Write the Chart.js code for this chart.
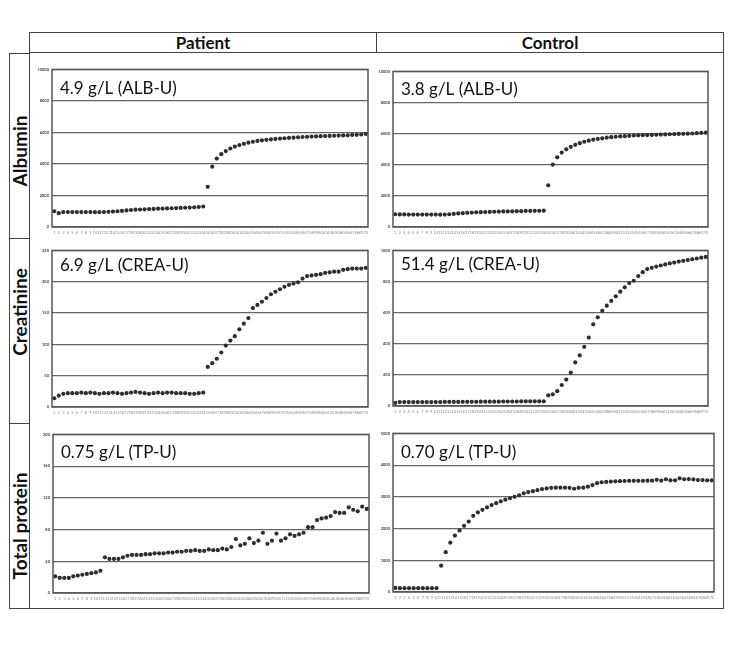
<!DOCTYPE html>
<html>
<head>
<meta charset="utf-8">
<script src="https://cdn.jsdelivr.net/npm/chart.js@4.4.1/dist/chart.umd.min.js"></script>
<style>
body{margin:0;background:#fff;width:752px;height:658px;position:relative;overflow:hidden;font-family:Lato,"Open Sans",sans-serif;color:#111}
.l{position:absolute;background:#444}
.hd{position:absolute;top:32px;height:20px;line-height:21px;font-weight:bold;font-size:17px;text-align:center}
.rw{position:absolute;font-weight:bold;font-size:19px;white-space:nowrap;transform:translate(-50%,-50%) rotate(-90deg)}
.cv{position:absolute}
</style>
</head>
<body>
<!-- table frame -->
<div class="l" style="left:29px;top:32px;width:695px;height:1px"></div>
<div class="l" style="left:29px;top:52px;width:695px;height:1px"></div>
<div class="l" style="left:9px;top:53px;width:20px;height:1px"></div>
<div class="l" style="left:9px;top:238px;width:20px;height:1px"></div>
<div class="l" style="left:9px;top:423px;width:20px;height:1px"></div>
<div class="l" style="left:9px;top:608px;width:715px;height:1px"></div>
<div class="l" style="left:9px;top:53px;width:1px;height:556px"></div>
<div class="l" style="left:29px;top:32px;width:1px;height:577px"></div>
<div class="l" style="left:376px;top:32px;width:1px;height:20px"></div>
<div class="l" style="left:723px;top:32px;width:1px;height:577px"></div>

<div class="hd" style="left:30px;width:346px">Patient</div>
<div class="hd" style="left:377px;width:346px">Control</div>
<div class="rw" style="left:19px;top:151px">Albumin</div>
<div class="rw" style="left:19px;top:312px">Creatinine</div>
<div class="rw" style="left:19px;top:526px">Total protein</div>

<div class="cv" id="c1"><canvas id="g1"></canvas></div>
<div class="cv" id="c2"><canvas id="g2"></canvas></div>
<div class="cv" id="c3"><canvas id="g3"></canvas></div>
<div class="cv" id="c4"><canvas id="g4"></canvas></div>
<div class="cv" id="c5"><canvas id="g5"></canvas></div>
<div class="cv" id="c6"><canvas id="g6"></canvas></div>

<script>
// sample numbers along the x axis
const amostras = Array.from({length: 70}, (_, i) => String(i + 1));

const albuminaPaciente = [
  1000,880,950,950,950,950,950,950,950,940,
  940,950,960,980,1000,1020,1050,1080,1100,1110,
  1120,1140,1150,1160,1170,1180,1190,1200,1210,1220,
  1230,1250,1270,1300,
  2550,3830,4340,4620,4820,4980,5100,5200,5280,5350,
  5410,5460,5500,5530,5560,5590,5610,5630,5650,5670,
  5690,5710,5720,5740,5750,5760,5770,5780,5790,5800,
  5810,5820,5840,5850,5870,5900
];
const albuminaControle = [
  820,810,810,800,800,800,800,800,800,800,
  790,800,820,840,870,890,910,930,940,950,
  960,970,980,990,1000,1000,1010,1020,1020,1030,
  1030,1040,1040,1050,
  2680,4010,4480,4780,4990,5150,5280,5390,5480,5550,
  5610,5660,5700,5740,5770,5800,5820,5840,5860,5880,
  5890,5900,5910,5920,5930,5940,5950,5960,5970,5980,
  5990,6000,6010,6030,6050,6070
];
const creatininaPaciente = [
  14,18,21,22,22,22,23,22,23,22,
  21,22,22,23,22,21,22,23,24,23,
  22,21,22,23,22,23,23,22,22,22,
  21,21,22,23,
  64,70,77,87,98,106,113,124,133,142,
  158,163,168,174,180,184,188,192,195,197,
  199,205,209,210,211,212,214,215,216,216,
  219,220,221,221,221,222
];
const creatininaControle = [
  20,25,25,25,25,25,25,25,25,25,
  25,26,26,26,26,27,27,27,27,28,
  28,28,28,28,29,29,29,29,30,30,
  30,30,30,30,
  68,75,95,135,170,215,280,325,380,440,
  525,570,612,645,675,705,735,763,790,805,
  835,860,880,888,896,903,910,916,922,928,
  933,938,943,948,953,958
];
const proteinaPaciente = [
  21,19,19,19,21,22,23,24,25,26,28,
  45,43,43,43,45,47,48,48,48,49,
  49,50,50,50,51,51,52,52,53,53,
  54,53,53,55,54,54,56,55,58,68,
  60,62,69,63,66,76,62,66,75,66,
  69,74,72,74,76,83,83,92,94,95,
  97,102,101,101,108,105,103,109,106
];
const proteinaControle = [
  130,120,120,120,120,120,120,120,120,120,
  830,1255,1555,1780,1940,2085,2220,2400,2510,2590,
  2665,2740,2800,2860,2910,2955,3000,3050,3110,3150,
  3180,3210,3245,3265,3285,3290,3290,3290,3285,3255,
  3285,3290,3320,3370,3430,3460,3470,3480,3490,3495,
  3500,3505,3505,3505,3505,3510,3510,3535,3510,3555,
  3520,3520,3585,3555,3560,3550,3530,3530,3520,3520
];

const notas = ["4.9 g/L (ALB-U)", "3.8 g/L (ALB-U)", "6.9 g/L (CREA-U)",
               "51.4 g/L (CREA-U)", "0.75 g/L (TP-U)", "0.70 g/L (TP-U)"];
const maximos = [10000, 10000, 250, 1000, 200, 5000];
const passos = [2000, 2000, 50, 200, 40, 1000];

// plot area boxes [left, top, right, bottom] and baseline offset of the note
const paineis = [
  {dados: albuminaPaciente,   caixa: [52, 68, 368, 227],  dy: 25},
  {dados: albuminaControle,   caixa: [393, 70, 708, 227], dy: 24},
  {dados: creatininaPaciente, caixa: [52, 249, 368, 407], dy: 21},
  {dados: creatininaControle, caixa: [393, 249, 708, 406], dy: 20},
  {dados: proteinaPaciente,   caixa: [53, 433, 369, 593], dy: 24},
  {dados: proteinaControle,   caixa: [393, 432, 714, 592], dy: 25}
];

const moldura = {
  id: 'moldura',
  afterDraw(chart, args, opts) {
    const {ctx, chartArea: a} = chart;
    ctx.save();
    ctx.strokeStyle = '#555';
    ctx.lineWidth = 1.5;
    ctx.strokeRect(a.left, a.top, a.right - a.left, a.bottom - a.top);
    ctx.fillStyle = '#111';
    ctx.font = '17px Lato';
    ctx.textBaseline = 'alphabetic';
    ctx.fillText(opts.texto, a.left + 8, a.top + opts.dy);
    ctx.restore();
  }
};

function criarPainel(n) {
  const p = paineis[n];
  const [l, t, r, b] = p.caixa;
  const div = document.getElementById('c' + (n + 1));
  div.style.left = (l - 14) + 'px';
  div.style.top = (t - 4) + 'px';
  div.style.width = (r - l + 18) + 'px';
  div.style.height = (b - t + 14) + 'px';

  return new Chart(document.getElementById('g' + (n + 1)), {
    type: 'line',
    data: {
      labels: amostras,
      datasets: [{
        data: p.dados,
        showLine: false,
        pointRadius: 2.1,
        pointBorderWidth: 0,
        pointBackgroundColor: '#2e2e2e',
        pointBorderColor: '#2e2e2e'
      }]
    },
    options: {
      responsive: true,
      maintainAspectRatio: false,
      animation: false,
      layout: { padding: { top: 4, right: 4, left: 0, bottom: 0 } },
      plugins: {
        legend: { display: false },
        tooltip: { enabled: false },
        moldura: { texto: notas[n], dy: p.dy }
      },
      scales: {
        x: {
          offset: true,
          grid: { display: false, drawTicks: false },
          border: { display: false },
          ticks: { autoSkip: false, maxRotation: 0, minRotation: 0, padding: 3,
                   color: '#8a8a8a', font: { size: 4, family: 'Lato' } },
          afterFit: s => { s.height = 10; }
        },
        y: {
          min: 0,
          max: maximos[n],
          grid: { color: '#666', lineWidth: 1.2, drawTicks: false },
          border: { display: false },
          ticks: { stepSize: passos[n], padding: 3, color: '#444',
                   font: { size: 4, family: 'Lato', weight: 'bold' },
                   callback: v => String(v) },
          afterFit: s => { s.width = 14; }
        }
      }
    },
    plugins: [moldura]
  });
}

for (let i = 0; i < paineis.length; i++) criarPainel(i);
</script>
</body>
</html>
